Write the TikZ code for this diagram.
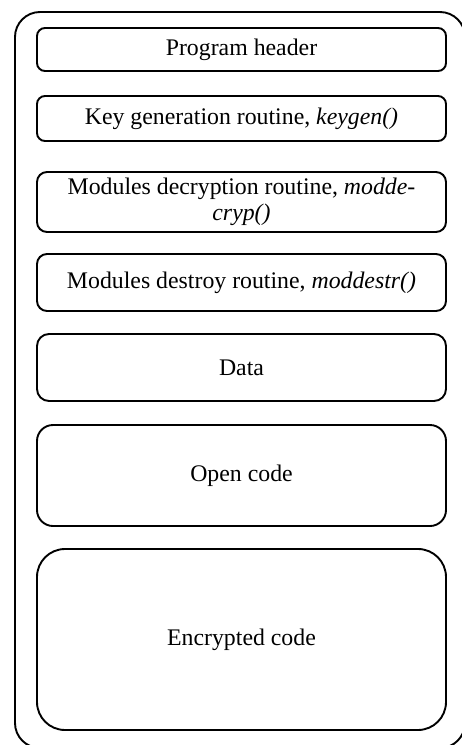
\documentclass[tikz,border=0pt]{standalone}
\usepackage{fontspec}
\setmainfont{Liberation Serif}
\begin{document}
\begin{tikzpicture}[x=1pt,y=-1pt,
  blk/.style={draw, line width=1.9pt, rectangle, minimum width=409pt, inner sep=0pt, align=center, font=\fontsize{23.8}{26.5}\selectfont},
  frame/.style={draw, line width=1.9pt, rounded corners=25pt}]
\useasboundingbox (0,0) rectangle (462,745);
\begin{scope}
\clip (0,0) rectangle (462,745);
\node[frame, rectangle, minimum width=450pt, minimum height=736pt, inner sep=0pt] (outer) at (240,380) {};
\end{scope}
\node[blk, rounded corners=8pt, minimum height=43pt] (n1) at (241.5,49.5) {Program header};
\node[blk, rounded corners=8pt, minimum height=45pt] (n2) at (241.5,118.5) {Key generation routine, \textit{keygen()}};
\node[blk, rounded corners=10pt, minimum height=60pt] (n3) at (241.5,202) {Modules decryption routine, \textit{modde-}\\\textit{cryp()}};
\node[blk, rounded corners=10pt, minimum height=57pt] (n4) at (241.5,282.5) {Modules destroy routine, \textit{moddestr()}};
\node[blk, rounded corners=12pt, minimum height=67pt] (n5) at (241.5,367.5) {Data};
\node[blk, rounded corners=16pt, minimum height=101pt] (n6) at (241.5,475.5) {Open code};
\node[blk, rounded corners=28pt, minimum height=181pt] (n7) at (241.5,639.5) {Encrypted code};
\end{tikzpicture}
\end{document}
